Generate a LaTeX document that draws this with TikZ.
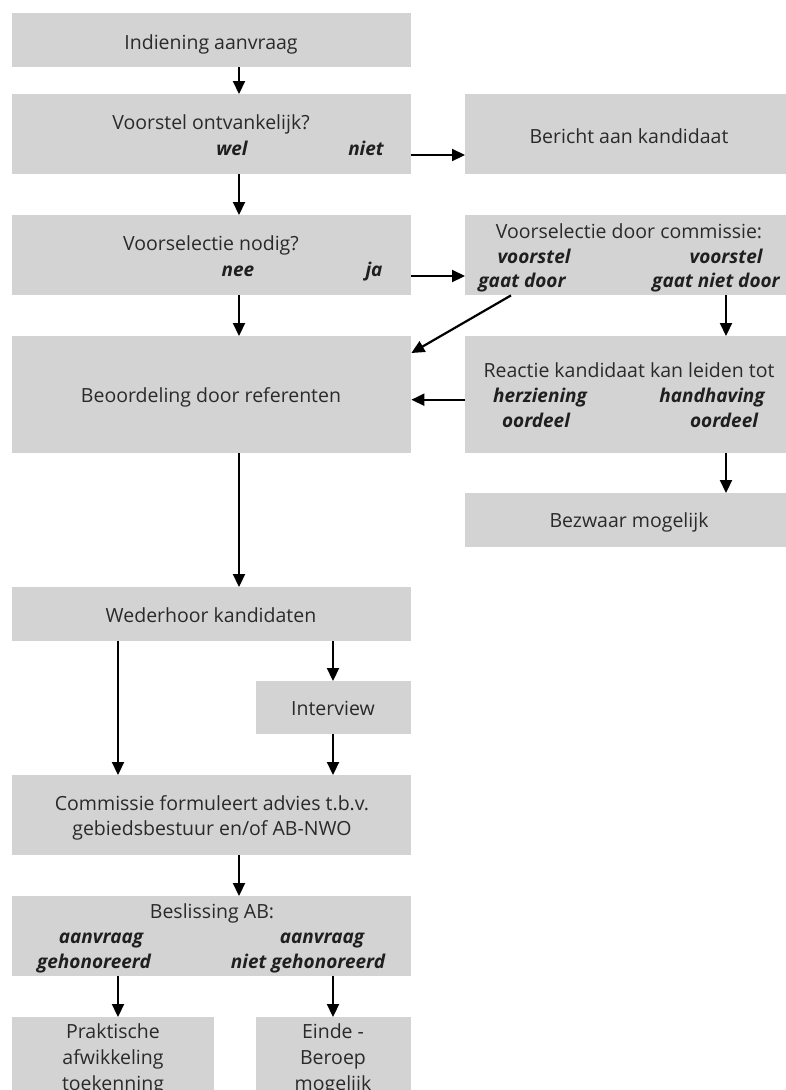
\documentclass[tikz,border=0pt]{standalone}
\usepackage{fontspec}
\setmainfont{Open Sans}
\usetikzlibrary{arrows.meta}
\definecolor{boxgray}{HTML}{D3D3D3}
\definecolor{txtgray}{HTML}{2A2A2A}
\tikzset{
  box/.style={fill=boxgray, inner sep=0pt, anchor=north west},
  lbl/.style={font=\fontsize{19.5}{25}\selectfont, text=txtgray, anchor=base, inner sep=0pt},
  choice/.style={lbl, font=\fontsize{19}{25}\selectfont\bfseries\itshape, text=black!88},
  arr/.style={line width=2.2pt, -{Triangle[length=13pt,width=12pt]}}
}
\begin{document}
\begin{tikzpicture}[x=1pt,y=-1pt]
\useasboundingbox (0,0) rectangle (786,1090);
% boxes
\node[box, minimum width=399pt, minimum height=54pt] (indiening) at (12,13) {};
\node[box, minimum width=399pt, minimum height=80pt] (ontvankelijk) at (12,94) {};
\node[box, minimum width=325pt, minimum height=80pt] (bericht) at (465,94) {};
\node[box, minimum width=399pt, minimum height=80pt] (nodig) at (12,215) {};
\node[box, minimum width=325pt, minimum height=80pt] (commissie) at (465,215) {};
\node[box, minimum width=399pt, minimum height=117pt] (beoordeling) at (12,336) {};
\node[box, minimum width=325pt, minimum height=117pt] (reactie) at (465,336) {};
\node[box, minimum width=325pt, minimum height=54pt] (bezwaar) at (465,493) {};
\node[box, minimum width=399pt, minimum height=54pt] (wederhoor) at (12,587) {};
\node[box, minimum width=155pt, minimum height=53pt] (interview) at (256,681) {};
\node[box, minimum width=399pt, minimum height=80pt] (advies) at (12,775) {};
\node[box, minimum width=399pt, minimum height=80pt] (beslissing) at (12,896) {};
\node[box, minimum width=202pt, minimum height=100pt] (praktisch) at (12,1017) {};
\node[box, minimum width=155pt, minimum height=100pt] (einde) at (256,1017) {};
% texts
\node[lbl] (tIndiening) at (211,49) {Indiening aanvraag};
\node[lbl] (tOntvankelijk) at (211,129) {Voorstel ontvankelijk?};
\node[choice] (tWel) at (232,155) {wel};
\node[choice] (tNiet) at (366,155) {niet};
\node[lbl] (tBericht) at (629,143) {Bericht aan kandidaat};
\node[lbl] (tNodig) at (211,250) {Voorselectie nodig?};
\node[choice] (tNee) at (238,276) {nee};
\node[choice] (tJa) at (374,276) {ja};
\node[lbl] (tCommissie) at (629,238) {Voorselectie door commissie:};
\node[choice] (tVoorstelA) at (534,263) {voorstel};
\node[choice] (tVoorstelB) at (726,263) {voorstel};
\node[choice] (tDoor) at (522,287) {gaat door};
\node[choice] (tNietDoor) at (716,287) {gaat niet door};
\node[lbl] (tBeoordeling) at (211,402) {Beoordeling door referenten};
\node[lbl] (tReactie) at (629,377) {Reactie kandidaat kan leiden tot};
\node[choice] (tHerziening) at (540,402) {herziening};
\node[choice] (tHandhaving) at (712,402) {handhaving};
\node[choice] (tOordeelA) at (536,427) {oordeel};
\node[choice] (tOordeelB) at (724,427) {oordeel};
\node[lbl] (tBezwaar) at (629,527) {Bezwaar mogelijk};
\node[lbl] (tWederhoor) at (211,622) {Wederhoor kandidaten};
\node[lbl] (tInterview) at (333,715) {Interview};
\node[lbl] (tAdviesA) at (212,810) {Commissie formuleert advies t.b.v.};
\node[lbl] (tAdviesB) at (212,835) {gebiedsbestuur en/of AB-NWO};
\node[lbl] (tBeslissing) at (212,918) {Beslissing AB:};
\node[choice] (tAanvraagA) at (101,943) {aanvraag};
\node[choice] (tAanvraagB) at (322,943) {aanvraag};
\node[choice] (tGehonoreerd) at (94,968) {gehonoreerd};
\node[choice] (tNietGehonoreerd) at (308,968) {niet gehonoreerd};
\node[lbl] (tPraktischA) at (113,1038) {Praktische};
\node[lbl] (tPraktischB) at (113,1064) {afwikkeling};
\node[lbl] (tPraktischC) at (113,1090) {toekenning};
\node[lbl] (tEindeA) at (333,1038) {Einde -};
\node[lbl] (tEindeB) at (333,1064) {Beroep};
\node[lbl] (tEindeC) at (333,1090) {mogelijk};
% arrow columns
\coordinate (colL) at (239,0);
\coordinate (colA) at (118,0);
\coordinate (colB) at (333,0);
\coordinate (colR) at (726,0);
\coordinate (gaatIn) at ([xshift=46pt]commissie.south west);
\coordinate (reactieOut) at ([yshift=-5pt]reactie.west);
% arrows
\draw[arr] (indiening.south -| colL) -- (ontvankelijk.north -| colL);
\draw[arr] (ontvankelijk.east |- tNiet.base) -- (bericht.west |- tNiet.base);
\draw[arr] (ontvankelijk.south -| colL) -- (nodig.north -| colL);
\draw[arr] (nodig.east |- tJa.base) -- (commissie.west |- tJa.base);
\draw[arr] (nodig.south -| colL) -- (beoordeling.north -| colL);
\draw[arr] (gaatIn) -- ([yshift=-17pt]beoordeling.north east);
\draw[arr] (commissie.south -| colR) -- (reactie.north -| colR);
\draw[arr] (reactieOut) -- (reactieOut -| beoordeling.east);
\draw[arr] (reactie.south -| colR) -- (bezwaar.north -| colR);
\draw[arr] (beoordeling.south -| colL) -- (wederhoor.north -| colL);
\draw[arr] (wederhoor.south -| colA) -- (advies.north -| colA);
\draw[arr] (wederhoor.south -| colB) -- (interview.north -| colB);
\draw[arr] (interview.south -| colB) -- (advies.north -| colB);
\draw[arr] (advies.south -| colL) -- (beslissing.north -| colL);
\draw[arr] (beslissing.south -| colA) -- (praktisch.north -| colA);
\draw[arr] (beslissing.south -| colB) -- (einde.north -| colB);
\end{tikzpicture}
\end{document}
